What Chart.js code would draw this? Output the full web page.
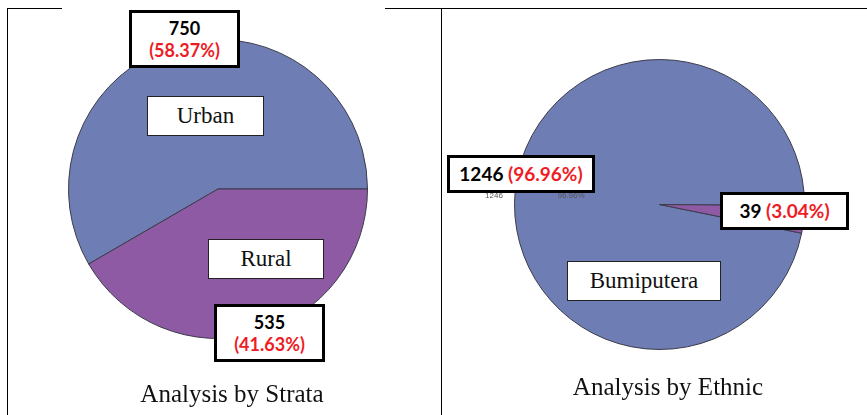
<!DOCTYPE html>
<html>
<head>
<meta charset="utf-8">
<script src="https://cdn.jsdelivr.net/npm/chart.js@4/dist/chart.umd.min.js"></script>
<style>
  html, body { margin: 0; padding: 0; background: #fff; }
  #wrap { position: relative; width: 867px; height: 415px; overflow: hidden; background: #fff; }
  .cv { position: absolute; top: 0; }
  .line { position: absolute; background: #000; }
  .box { position: absolute; box-sizing: border-box; background: #fff; display: flex; flex-direction: column; align-items: center; justify-content: center; text-align: center; }
  .thick { border: 3px solid #000; font-family: Lato, "Open Sans", sans-serif; font-weight: bold; font-size: 18px; line-height: 22px; color: #000; }
  .thin { border: 1.5px solid #222; font-family: "Liberation Serif", "DejaVu Serif", serif; font-size: 23px; color: #111; }
  .red { color: #ee1c25; }
  .title { position: absolute; font-family: "Liberation Serif", "DejaVu Serif", serif; font-size: 25px; color: #111; white-space: nowrap; transform: translate(-50%, -50%); }
  .tiny { position: absolute; font-family: "Liberation Sans", Arial, sans-serif; font-size: 8px; color: #555; transform: translate(-50%, -50%); white-space: nowrap; }
</style>
</head>
<body>
<div id="wrap">
  <div class="line" style="left:7px; top:8px; width:55px; height:1px;"></div>
  <div class="line" style="left:385px; top:8px; width:482px; height:1px;"></div>
  <div class="line" style="left:7px; top:8px; width:1px; height:407px;"></div>
  <div class="line" style="left:441px; top:8px; width:1px; height:407px;"></div>
  <canvas id="c1" class="cv" style="left:0px;" width="441" height="415"></canvas>
  <canvas id="c2" class="cv" style="left:442px;" width="425" height="415"></canvas>
</div>
<script>
// ---- data ----
const strataLabels = ['Urban', 'Rural'];
const strataValues = [750, 535];
const ethnicLabels = ['Bumiputera', 'Non-Bumiputera'];
const ethnicValues = [1246, 39];
const chartTitles = ['Analysis by Strata', 'Analysis by Ethnic'];
const sliceColors = ['#6e7db3', '#8e5aa3'];

function pct(v, arr) {
  const t = arr.reduce((a, b) => a + b, 0);
  return (Math.round(v / t * 10000) / 100).toFixed(2) + '%';
}
function share(v, arr) {
  return v / arr.reduce((a, b) => a + b, 0);
}

function makePie(id, labels, values, rotation, padding) {
  return new Chart(document.getElementById(id), {
    type: 'pie',
    data: {
      labels: labels,
      datasets: [{
        data: values,
        backgroundColor: sliceColors,
        borderColor: '#3b3b4a',
        borderWidth: 1
      }]
    },
    options: {
      responsive: false,
      animation: false,
      events: [],
      rotation: rotation,
      layout: { padding: padding },
      plugins: { legend: { display: false }, tooltip: { enabled: false } }
    }
  });
}

makePie('c1', strataLabels, strataValues,
  90 + 360 * share(strataValues[1], strataValues),
  { left: 68, right: 73, top: 39, bottom: 76 });
makePie('c2', ethnicLabels, ethnicValues,
  90.5 + 360 * share(ethnicValues[1], ethnicValues),
  { left: 72, right: 62, top: 59, bottom: 65 });

// ---- annotations ----
const wrap = document.getElementById('wrap');
function add(html, cls, style) {
  const d = document.createElement('div');
  d.className = cls;
  d.setAttribute('style', style);
  d.innerHTML = html;
  wrap.appendChild(d);
  return d;
}

// left chart
add('<div>' + strataValues[0] + '</div><div class="red">(' + pct(strataValues[0], strataValues) + ')</div>',
  'box thick', 'left:129px; top:10px; width:111px; height:58px;');
add(strataLabels[0], 'box thin', 'left:147px; top:96px; width:117px; height:40px;');
add(strataLabels[1], 'box thin', 'left:208px; top:239px; width:116px; height:40px;');
add('<div>' + strataValues[1] + '</div><div class="red">(' + pct(strataValues[1], strataValues) + ')</div>',
  'box thick', 'left:214px; top:304px; width:111px; height:58px;');
add(chartTitles[0], 'title', 'left:232px; top:394px;');

// right chart
add(String(ethnicValues[0]), 'tiny', 'left:494px; top:195px;');
add(pct(ethnicValues[0], ethnicValues), 'tiny', 'left:571px; top:195px;');
add('<div>' + ethnicValues[0] + ' <span class="red">(' + pct(ethnicValues[0], ethnicValues) + ')</span></div>',
  'box thick', 'left:447px; top:155px; width:148px; height:38px; font-size:19px;');
add('<div>' + ethnicValues[1] + ' <span class="red">(' + pct(ethnicValues[1], ethnicValues) + ')</span></div>',
  'box thick', 'left:720px; top:192px; width:129px; height:38px; font-size:19px;');
add(ethnicLabels[0], 'box thin', 'left:567px; top:261px; width:154px; height:40px;');
add(chartTitles[1], 'title', 'left:668px; top:387px;');
</script>
</body>
</html>
